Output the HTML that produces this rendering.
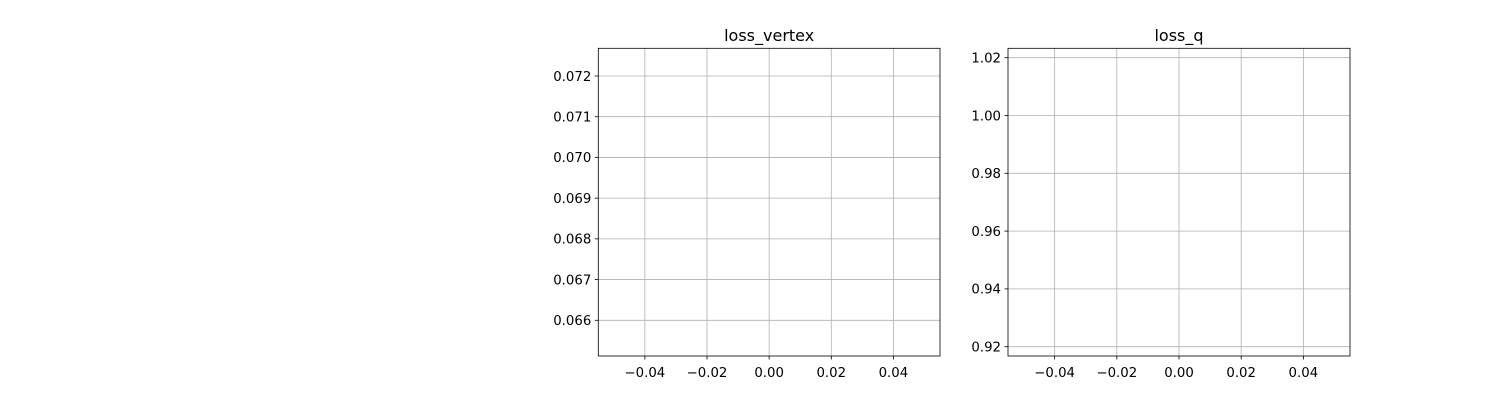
<!DOCTYPE html>
<html>
<head>
<meta charset="utf-8">
<style>
  html,body{margin:0;padding:0;background:#fff;}
  svg{display:block;font-family:"DejaVu Sans","Liberation Sans",sans-serif;}
</style>
</head>
<body>
<svg id="fig" width="1500" height="400" viewBox="0 0 1500 400"></svg>
<script>
// Tick labels / data for each panel
const xTicks = [-0.04, -0.02, 0.00, 0.02, 0.04];
const xTickLabels = ["\u22120.04", "\u22120.02", "0.00", "0.02", "0.04"];
const vertexYTicks = [0.066, 0.067, 0.068, 0.069, 0.070, 0.071, 0.072];
const vertexYTickLabels = ["0.066", "0.067", "0.068", "0.069", "0.070", "0.071", "0.072"];
const qYTicks = [0.92, 0.94, 0.96, 0.98, 1.00, 1.02];
const qYTickLabels = ["0.92", "0.94", "0.96", "0.98", "1.00", "1.02"];
const vertexSeries = [];
const qSeries = [];

const NS = "http://www.w3.org/2000/svg";
const svg = document.getElementById("fig");
function mk(tag, attrs, parent) {
  const e = document.createElementNS(NS, tag);
  for (const k in attrs) e.setAttribute(k, attrs[k]);
  (parent || svg).appendChild(e);
  return e;
}

function panel(name, title, box, xDom, yDom, yTicks, yLabels, series) {
  const g = mk("g", {});
  
  
  const xs = v => box.l + (v - xDom[0]) / (xDom[1] - xDom[0]) * (box.r - box.l);
  const ys = v => box.b - (v - yDom[0]) / (yDom[1] - yDom[0]) * (box.b - box.t);
  const grid = mk("g", {}, g);
  
  
  xTicks.forEach(v => {
    const x = xs(v);
    const ln = mk("line", {x1: x, x2: x, y1: box.t, y2: box.b, stroke: "#b0b0b0", "stroke-width": 0.8}, grid);
    
    
  });
  yTicks.forEach(v => {
    const y = ys(v);
    const ln = mk("line", {x1: box.l, x2: box.r, y1: y, y2: y, stroke: "#b0b0b0", "stroke-width": 0.8}, grid);
    
    
  });
  if (series.length) {
    const pts = series.map((v, i) => xs(i) + "," + ys(v)).join(" ");
    const pl = mk("polyline", {points: pts, fill: "none", stroke: "#1f77b4", "stroke-width": 1.5}, g);
    
    
  }
  const fr = mk("rect", {x: box.l, y: box.t, width: box.r - box.l, height: box.b - box.t, fill: "none", stroke: "#000", "stroke-width": 0.8}, g);
  
  
  xTicks.forEach((v, i) => {
    const x = xs(v);
    const t = mk("line", {x1: x, x2: x, y1: box.b, y2: box.b + 3.5, stroke: "#000", "stroke-width": 0.8}, g);
    
    
    const tx = mk("text", {x: x, y: box.b + 21, "font-size": 13.3, "text-anchor": "middle", fill: "#000"}, g);
    tx.textContent = xTickLabels[i];
    
    
  });
  yTicks.forEach((v, i) => {
    const y = ys(v);
    const t = mk("line", {x1: box.l - 3.5, x2: box.l, y1: y, y2: y, stroke: "#000", "stroke-width": 0.8}, g);
    
    
    const tx = mk("text", {x: box.l - 7, y: y + 4.8, "font-size": 13.3, "text-anchor": "end", fill: "#000"}, g);
    tx.textContent = yLabels[i];
    
    
  });
  const tt = mk("text", {x: (box.l + box.r) / 2, y: box.t - 7.5, "font-size": 16, "text-anchor": "middle", fill: "#000"}, g);
  tt.textContent = title;
  
  
}

panel("loss-vertex-panel", "loss_vertex", {l: 598.3, r: 940, t: 48.3, b: 356},
      [-0.055, 0.055], [0.065123, 0.072680], vertexYTicks, vertexYTickLabels, vertexSeries);
panel("loss-q-panel", "loss_q", {l: 1008, r: 1350, t: 48.3, b: 356},
      [-0.055, 0.055], [0.91678, 1.02325], qYTicks, qYTickLabels, qSeries);
</script>
</body>
</html>
